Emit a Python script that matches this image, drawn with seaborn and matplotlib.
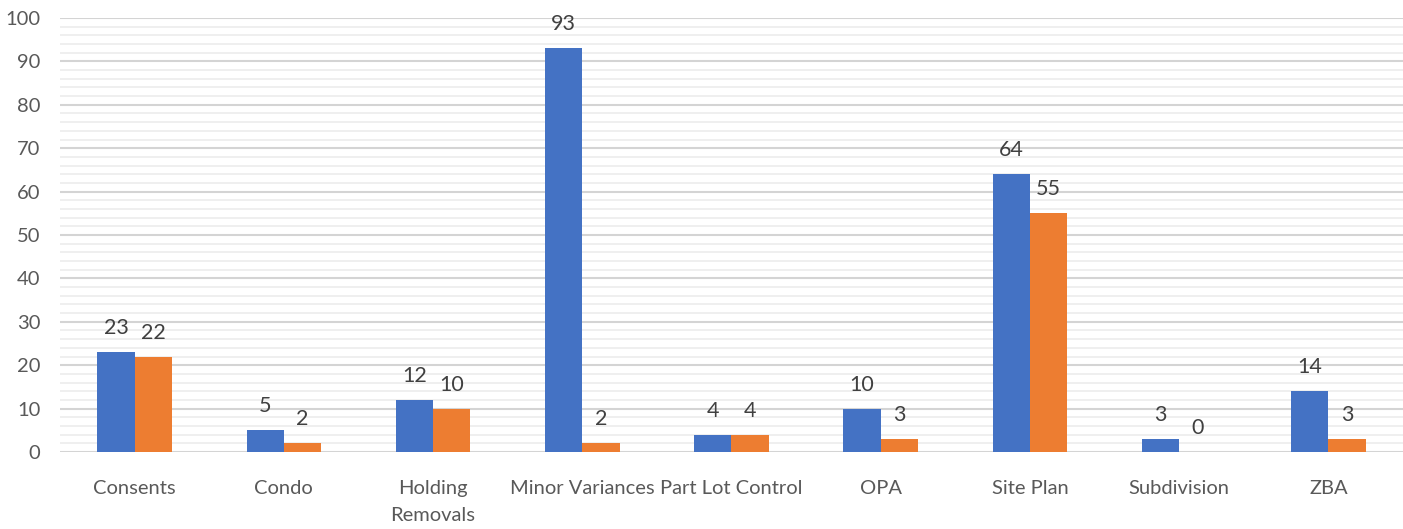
import matplotlib
matplotlib.use("Agg")
import matplotlib.pyplot as plt
import seaborn as sns
import pandas as pd
from matplotlib.ticker import MultipleLocator

categories = ["Consents", "Condo", "Holding\nRemovals", "Minor Variances", "Part Lot Control",
              "OPA", "Site Plan", "Subdivision", "ZBA"]
series_names = ["Series 1", "Series 2"]
series1 = [23, 5, 12, 93, 4, 10, 64, 3, 14]
series2 = [22, 2, 10, 2, 4, 3, 55, 0, 3]

df = pd.DataFrame({
    "category": categories * 2,
    "value": series1 + series2,
    "series": [series_names[0]] * len(categories) + [series_names[1]] * len(categories),
})

sns.set_theme(style="white")
plt.rcParams["font.family"] = ["Lato", "DejaVu Sans"]

fig = plt.figure(figsize=(14.03, 5.29), dpi=100)
ax = fig.add_axes([60/1403, 77/529, 1 - 60/1403, (452-18)/529])

sns.barplot(data=df, x="category", y="value", hue="series", order=categories,
            palette=["#4472C4", "#ED7D31"], width=0.5, ax=ax, legend=False,
            saturation=1, errorbar=None, linewidth=0)

ax.set_ylim(0, 100)
ax.set_xlim(-0.5, len(categories) - 0.5)
ax.yaxis.set_major_locator(MultipleLocator(10))
ax.yaxis.set_minor_locator(MultipleLocator(2))
ax.grid(axis="y", which="major", color="#d4d4d4", linewidth=1.5, zorder=0)
ax.grid(axis="y", which="minor", color="#ececec", linewidth=1.2, zorder=0)
ax.set_axisbelow(True)
for s in ax.spines.values():
    s.set_visible(False)
ax.tick_params(axis="both", which="both", length=0, colors="#595959", labelsize=14.5)
ax.tick_params(axis="x", pad=20)
ax.tick_params(axis="y", pad=14)
ax.set_xticks(range(len(categories)))
ax.set_xticklabels(categories, linespacing=1.75)
ax.set_xlabel("")
ax.set_ylabel("")

for cont in ax.containers:
    ax.bar_label(cont, labels=[f"{v:.0f}" for v in cont.datavalues], padding=10,
                 fontsize=15.5, color="#404040")

fig.savefig("out.png", dpi=100)
